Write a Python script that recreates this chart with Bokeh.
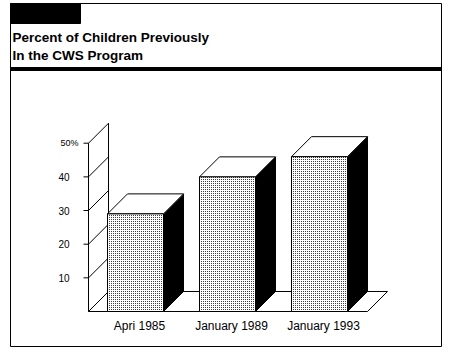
from bokeh.plotting import figure
from bokeh.models import Range1d
from bokeh.core.properties import value
from bokeh.embed import file_html
from bokeh.resources import INLINE

# ---- data ----
categories = ["Apri 1985", "January 1989", "January 1993"]
percents = [29, 40, 46]
tick_values = [10, 20, 30, 40, 50]
tick_labels = ["10", "20", "30", "40", "50%"]
title_lines = ["Percent of Children Previously", "In the CWS Program"]

# ---- geometry helpers (pixel -> data) ----
PX_PER_CAT = 92.0
X0_PX = 135.0
BASE_PX = 311.0
PX_PER_PCT = 3.366

def X(px):
    return (px - X0_PX) / PX_PER_CAT

def Y(py):
    return (BASE_PX - py) / PX_PER_PCT

DX = 20 / PX_PER_CAT
DY = 20 / PX_PER_PCT
HW = 28 / PX_PER_CAT

W, H = 451, 350
p = figure(width=W, height=H, output_backend="svg", toolbar_location=None,
           x_range=Range1d(X(0), X(W)), y_range=Range1d(Y(H), Y(0)),
           x_axis_type=None, y_axis_type=None, min_border=0)
p.grid.visible = False
p.outline_line_color = None
p.background_fill_color = "white"

FONT = value("Liberation Sans")

# outer frame
p.patch([X(10), X(441), X(441), X(10)], [Y(3), Y(3), Y(346), Y(346)],
        fill_color="white", line_color="black", line_width=1)
# black tab
p.quad(left=[X(10)], right=[X(80)], top=[Y(3)], bottom=[Y(23)],
       fill_color="black", line_color="black")
# heavy rule under title
p.segment(x0=[X(10)], y0=[Y(68.5)], x1=[X(441)], y1=[Y(68.5)],
          line_color="black", line_width=4)
# title
p.text(x=[X(12), X(12)], y=[Y(37), Y(55)], text=title_lines,
       text_font=FONT, text_font_size="13.5px", text_font_style="bold",
       text_align="left", text_baseline="middle", text_color="black")

n = len(categories)
x_last = (n - 1) + HW
floor_right = x_last + X(366) - X(346)

# floor
p.patch([X(88), floor_right, floor_right + DX, X(88) + DX],
        [0, 0, DY, DY], fill_color="white", line_color="black", line_width=1)

# left wall: front axis, back vertical, diagonals
ymax = max(tick_values)
p.segment(x0=[X(88)], y0=[0], x1=[X(88)], y1=[ymax], line_color="black")
p.segment(x0=[X(88) + DX], y0=[DY], x1=[X(88) + DX], y1=[ymax + DY], line_color="black")
diag_y = [0] + tick_values
p.segment(x0=[X(88)] * len(diag_y), y0=diag_y,
          x1=[X(88) + DX] * len(diag_y), y1=[v + DY for v in diag_y], line_color="black")
# tick marks
p.segment(x0=[X(83)] * len(tick_values), y0=tick_values,
          x1=[X(88)] * len(tick_values), y1=tick_values, line_color="black")
# tick labels
p.text(x=[X(58)] * 4, y=tick_values[:4], text=tick_labels[:4], text_font=FONT,
       text_font_size="10px", text_align="left", text_baseline="middle", text_color="black")
p.text(x=[X(60)], y=[tick_values[4]], text=[tick_labels[4]], text_font=FONT,
       text_font_size="9px", text_align="left", text_baseline="middle", text_color="black")

# bars
for i, v in enumerate(percents):
    l, r = i - HW, i + HW
    # side face
    p.patch([r, r, r + DX, r + DX], [0, v, v + DY, DY],
            fill_color="black", line_color="black", line_width=1)
    # top face
    p.patch([l, l + DX, r + DX, r], [v, v + DY, v + DY, v],
            fill_color="white", line_color="black", line_width=1)
    # front face
    p.quad(left=[l], right=[r], bottom=[0], top=[v], fill_color="white",
           hatch_pattern="dot", hatch_scale=2, hatch_weight=1.4, hatch_color="black",
           line_color="black", line_width=1)

# category labels
p.text(x=[i + X(139) for i in range(n)], y=[Y(325)] * n, text=categories,
       text_font=FONT, text_font_size="12px", text_align="center",
       text_baseline="middle", text_color="black")

open("out.html", "w").write(file_html(p, INLINE))
